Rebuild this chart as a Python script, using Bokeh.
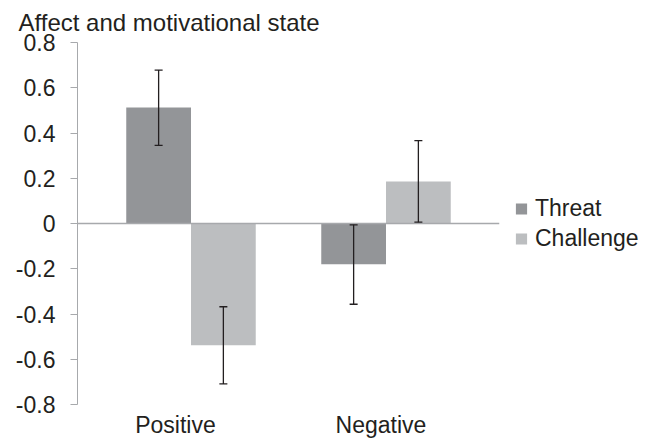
from bokeh.plotting import figure
from bokeh.models import (Range1d, ColumnDataSource, Whisker, TeeHead, Span,
                          FixedTicker, Legend, LegendItem, LinearAxis, LinearScale)
from bokeh.transform import dodge
from bokeh.embed import file_html
from bokeh.resources import INLINE

# ---- data ----
categories = ["Positive", "Negative"]
series_names = ["Threat", "Challenge"]
threat = [0.513, -0.180]
challenge = [-0.538, 0.186]
threat_lower = [0.345, -0.357]
threat_upper = [0.678, -0.006]
challenge_lower = [-0.709, 0.006]
challenge_upper = [-0.368, 0.366]
y_ticks = [-0.8, -0.6, -0.4, -0.2, 0, 0.2, 0.4, 0.6, 0.8]
y_tick_labels = ["-0.8", "-0.6", "-0.4", "-0.2", "0", "0.2", "0.4", "0.6", "0.8"]
title_text = "Affect and motivational state"

FONT = "Liberation Sans"
TXT = "#231f20"
C_THREAT = "#939598"
C_CHALL = "#bcbec0"
AXIS_GRAY = "#a7a9ac"

W, H = 654, 440
LEFT, TOP = 77, 42
FRAME_W, FRAME_H = 422, 362

# category slots: one unit per category, centred at i + 0.5
cat_pos = [i + 0.5 for i in range(len(categories))]

src = ColumnDataSource(dict(cat=categories, x=cat_pos, threat=threat, challenge=challenge,
                            tl=threat_lower, tu=threat_upper,
                            cl=challenge_lower, cu=challenge_upper))

p = figure(x_range=Range1d(-0.082, len(categories) + 0.082), y_range=Range1d(-0.8, 0.8),
           frame_width=FRAME_W, frame_height=FRAME_H,
           output_backend="svg", toolbar_location=None, x_axis_location=None,
           min_border_left=LEFT, min_border_right=W - LEFT - FRAME_W,
           min_border_top=TOP, min_border_bottom=H - TOP - FRAME_H)
p.outline_line_color = None
p.background_fill_color = "white"
p.xgrid.visible = False
p.ygrid.visible = False

p.title.text = title_text
p.title.align = "left"
p.title.offset = -59
p.title.standoff = 13
p.title.text_font = FONT
p.title.text_font_size = "24px"
p.title.text_font_style = "normal"
p.title.text_color = TXT

off = 0.166
bw = 0.332
r1 = p.vbar(x=dodge("x", -off), top="threat", bottom=0, width=bw, source=src,
            fill_color=C_THREAT, line_color=None)
r2 = p.vbar(x=dodge("x", off), top="challenge", bottom=0, width=bw, source=src,
            fill_color=C_CHALL, line_color=None)

p.add_layout(Span(location=0, dimension="width", line_color=AXIS_GRAY, line_width=1.5))

for o, lo, up in [(-off, "tl", "tu"), (off, "cl", "cu")]:
    w = Whisker(base=dodge("x", o), lower=lo, upper=up, source=src,
                line_color=TXT, line_width=1.3, level="overlay",
                upper_head=TeeHead(size=8, line_color=TXT, line_width=1.3),
                lower_head=TeeHead(size=8, line_color=TXT, line_width=1.3))
    p.add_layout(w)

# y axis
yax = p.yaxis[0]
yax.ticker = FixedTicker(ticks=y_ticks)
yax.major_label_overrides = {t: l for t, l in zip(y_ticks, y_tick_labels)}
yax.axis_line_color = AXIS_GRAY
yax.major_tick_line_color = AXIS_GRAY
yax.major_tick_out = 7
yax.major_tick_in = 0
yax.minor_tick_line_color = None
yax.major_label_standoff = 15
yax.major_label_text_font = FONT
yax.major_label_text_font_size = "23px"
yax.major_label_text_color = TXT

# category label axis (labels sit slightly left of the bar groups, as in the original)
p.extra_x_ranges = {"lab": Range1d(0.023, 2.077)}
p.extra_x_scales = {"lab": LinearScale()}
xax = LinearAxis(x_range_name="lab", ticker=FixedTicker(ticks=cat_pos),
                 major_label_overrides={t: c for t, c in zip(cat_pos, categories)})
xax.axis_line_color = None
xax.major_tick_line_color = None
xax.minor_tick_line_color = None
xax.major_tick_out = 0
xax.major_label_standoff = 7
xax.major_label_text_font = FONT
xax.major_label_text_font_size = "23px"
xax.major_label_text_color = TXT
p.add_layout(xax, "below")

legend = Legend(items=[LegendItem(label=series_names[0], renderers=[r1]),
                       LegendItem(label=series_names[1], renderers=[r2])],
                location="left", orientation="vertical",
                padding=0, margin=15, spacing=3, border_line_color=None,
                background_fill_alpha=0, glyph_width=14, glyph_height=14,
                label_standoff=7, label_height=26,
                label_text_font=FONT, label_text_font_size="23px", label_text_color=TXT)
p.add_layout(legend, "right")

open("out.html", "w").write(file_html(p, INLINE))
